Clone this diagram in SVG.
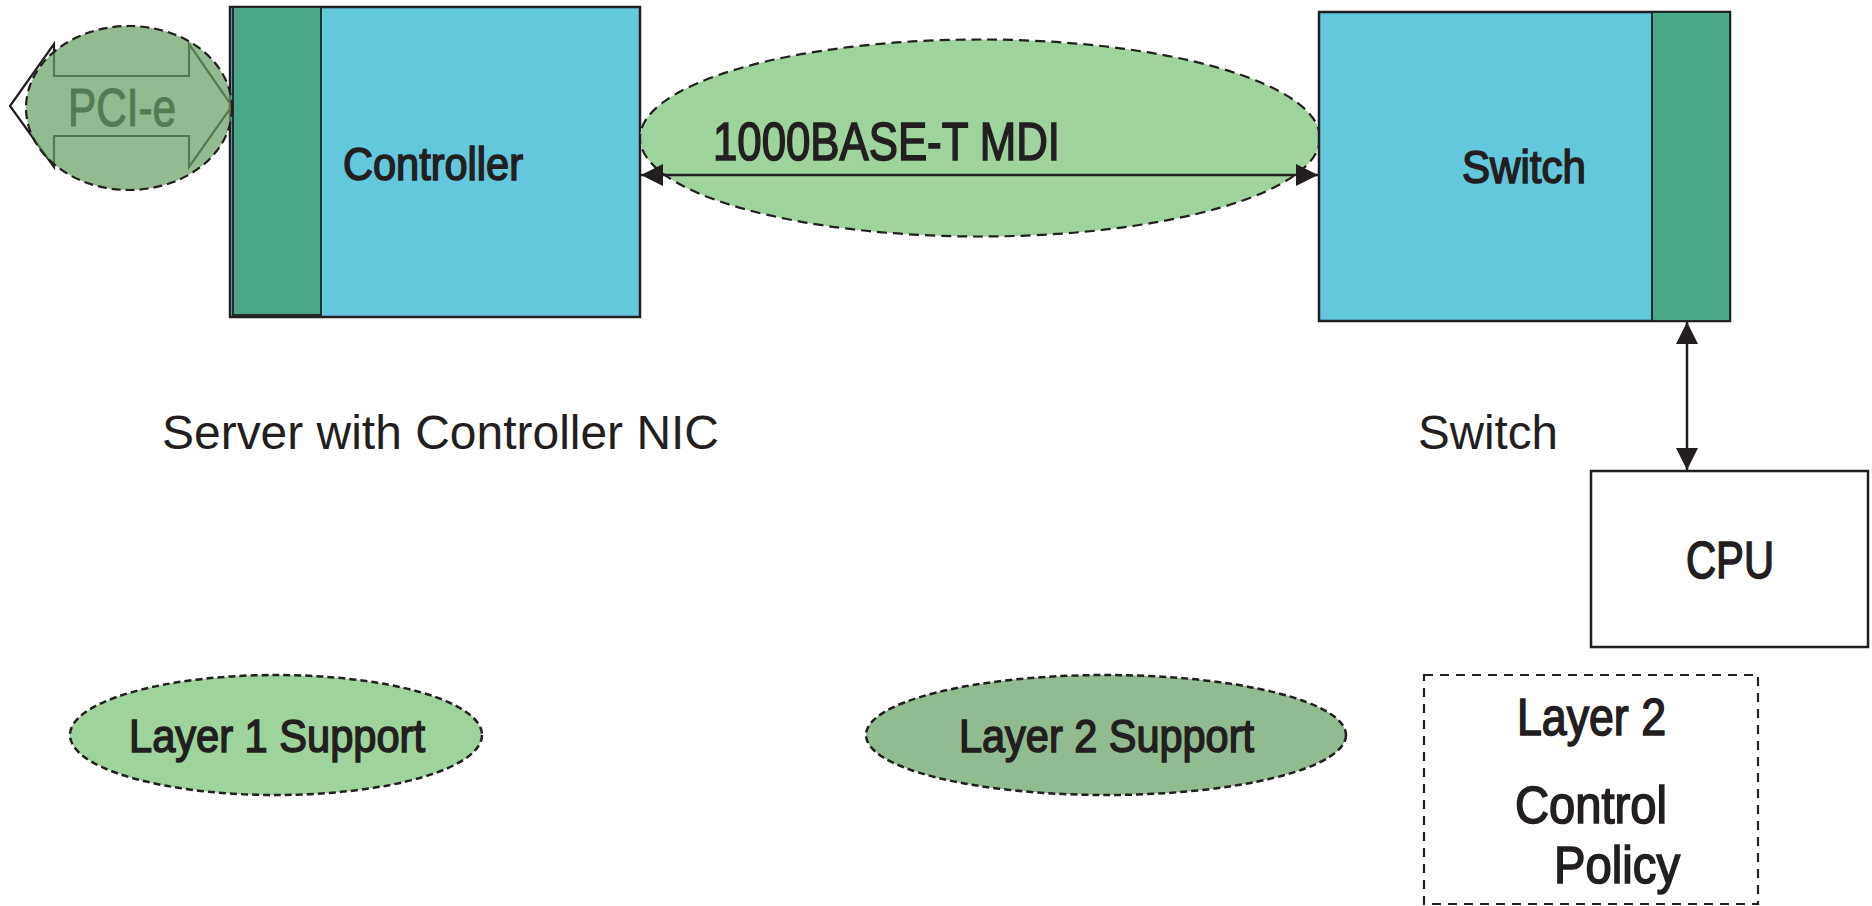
<svg xmlns="http://www.w3.org/2000/svg" width="1872" height="906" viewBox="0 0 1872 906">
<style>
.bg{fill:#ffffff}
.box{stroke:#231f20;stroke-width:2.5}
.cyan{fill:#63c8dc}
.strip{fill:#4aa888;stroke:#231f20;stroke-width:1.8}
.lg{fill:#9fd39d}
.dg{fill:#93bb91}
.dash1{stroke:#231f20;stroke-width:2.2;stroke-dasharray:10 6;fill:#9fd39d}
.dash2{stroke:#231f20;stroke-width:2.5;stroke-dasharray:7 4}
.cond{font-family:"Liberation Sans Narrow","Liberation Sans",Arial,sans-serif;font-weight:normal;fill:#231f20;stroke:#231f20;stroke-width:1.6}
.pci{font-family:"Liberation Sans Narrow","Liberation Sans",Arial,sans-serif;font-weight:normal;fill:#231f20;stroke:#231f20;stroke-width:1.2}
.reg{font-family:"Liberation Sans",Arial,sans-serif;fill:#231f20}
.conn{stroke:#231f20;stroke-width:2.5;fill:none}
</style>
<defs>
<marker id="ah" markerUnits="userSpaceOnUse" markerWidth="22" markerHeight="22" refX="22" refY="11" orient="auto-start-reverse" viewBox="0 0 22 22">
<path d="M0,0 L22,11 L0,22 z" fill="#231f20"/>
</marker>
</defs>
<rect class="bg" x="0" y="0" width="1872" height="906"/>

<g id="controller">
<rect class="box cyan" x="230" y="7" width="410" height="310"/>
<rect class="strip" x="233" y="7" width="88" height="308"/>
<text class="cond" x="343" y="180" font-size="46" textLength="180" lengthAdjust="spacingAndGlyphs">Controller</text>
</g>

<g id="pcie">
<path d="M10,106 L54,44 L54,76 L189,76 L189,44 L232,106 L189,167 L189,136 L54,136 L54,167 Z" fill="none" stroke="#231f20" stroke-width="2.2"/>
<text class="pci" x="68" y="126" font-size="53" textLength="108" lengthAdjust="spacingAndGlyphs">PCI-e</text>
<ellipse cx="129" cy="108" rx="103" ry="82" fill="#69a066" fill-opacity="0.72" stroke="#231f20" stroke-width="2.2" stroke-dasharray="9 5"/>
</g>

<g id="mdi">
<ellipse class="dash1" cx="980" cy="138" rx="340" ry="98.5"/>
<text class="cond" x="713" y="160" font-size="53" textLength="347" lengthAdjust="spacingAndGlyphs">1000BASE-T MDI</text>
</g>

<g id="switch">
<rect class="box cyan" x="1319" y="12" width="411" height="309"/>
<rect class="strip" x="1652" y="12" width="78" height="309"/>
<text class="cond" x="1462" y="183" font-size="46" textLength="124" lengthAdjust="spacingAndGlyphs">Switch</text>
</g>

<g id="cpu">
<rect class="box" fill="#ffffff" x="1591" y="471" width="277" height="176"/>
<text class="cond" x="1686" y="578" font-size="51" textLength="88" lengthAdjust="spacingAndGlyphs">CPU</text>
</g>

<g id="server-label">
<text class="reg" x="162" y="449" font-size="48" textLength="557" lengthAdjust="spacingAndGlyphs">Server with Controller NIC</text>
</g>

<g id="switch-label">
<text class="reg" x="1418" y="449" font-size="48" textLength="140" lengthAdjust="spacingAndGlyphs">Switch</text>
</g>

<g id="layer1">
<ellipse class="dash2 lg" cx="276" cy="735" rx="206" ry="60"/>
<text class="cond" x="129" y="752" font-size="47" textLength="296" lengthAdjust="spacingAndGlyphs">Layer 1 Support</text>
</g>

<g id="layer2">
<ellipse class="dash2 dg" cx="1106" cy="735" rx="240" ry="60"/>
<text class="cond" x="959" y="752" font-size="47" textLength="295" lengthAdjust="spacingAndGlyphs">Layer 2 Support</text>
</g>

<g id="policy">
<rect x="1424" y="675" width="334" height="229" fill="none" stroke="#231f20" stroke-width="2.2" stroke-dasharray="9 7"/>
<text class="cond" x="1517" y="735" font-size="51" textLength="149" lengthAdjust="spacingAndGlyphs">Layer 2</text>
<text class="cond" x="1515" y="823" font-size="51" textLength="152" lengthAdjust="spacingAndGlyphs">Control</text>
<text class="cond" x="1554" y="883" font-size="51" textLength="126" lengthAdjust="spacingAndGlyphs">Policy</text>
</g>

<g id="connectors">
<line class="conn" x1="641" y1="175" x2="1318" y2="175" marker-start="url(#ah)" marker-end="url(#ah)"/>
<line class="conn" x1="1687" y1="322" x2="1687" y2="470" marker-start="url(#ah)" marker-end="url(#ah)"/>
</g>
</svg>
